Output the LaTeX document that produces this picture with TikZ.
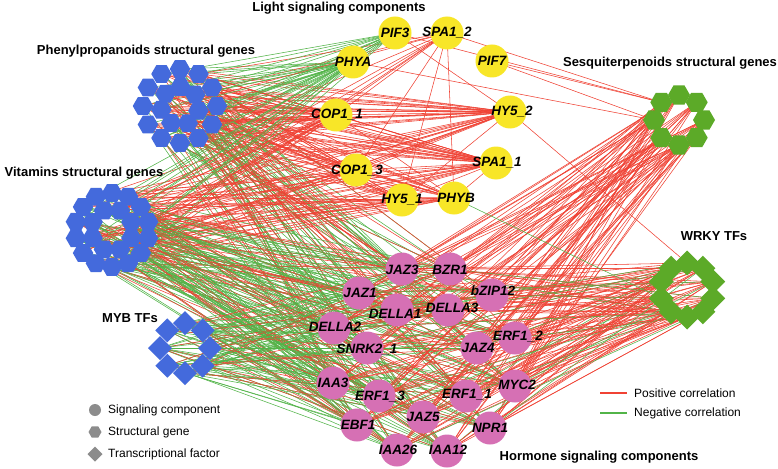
\documentclass[tikz,border=0pt]{standalone}
\usepackage{fontspec}
\setmainfont{Liberation Sans}
\usetikzlibrary{shapes.geometric}
\pgfdeclarelayer{bg}
\pgfsetlayers{bg,main}
\definecolor{posc}{RGB}{240,66,52}
\definecolor{negc}{RGB}{82,180,72}
\definecolor{yel}{RGB}{248,230,40}
\definecolor{pnk}{RGB}{214,112,180}
\definecolor{blu}{RGB}{68,106,220}
\definecolor{grn}{RGB}{92,170,40}
\definecolor{gry}{RGB}{140,140,140}
\tikzset{
 poscor/.style={draw=posc, line width=0.55pt},
 negcor/.style={draw=negc, line width=0.55pt},
 sig/.style={circle, minimum size=33pt, inner sep=0pt},
 lightnode/.style={sig, fill=yel},
 hormnode/.style={sig, fill=pnk},
 nlabel/.style={font=\fontsize{13.5}{14}\selectfont\bfseries\itshape, inner sep=0pt},
 title/.style={font=\fontsize{13}{14}\selectfont\bfseries, inner sep=0pt},
 legtext/.style={font=\fontsize{12}{13}\selectfont, inner sep=0pt, anchor=west},
 hexb/.style={regular polygon, regular polygon sides=6, minimum size=20.5pt, inner sep=0pt, fill=blu},
 hexg/.style={hexb, minimum size=22pt, fill=grn},
 diab/.style={regular polygon, regular polygon sides=4, shape border rotate=45, minimum size=24pt, inner sep=0pt, fill=blu},
 diag/.style={diab, minimum size=25pt, fill=grn},
 legline/.style={line width=1.4pt},
}
\newcommand{\lnk}[4]{\pgfmathtruncatemacro{\lnkok}{#1}\ifnum\lnkok=1 \draw[#2] (#3.center) -- (#4.center);\fi}
\begin{document}
\begin{tikzpicture}[x=1pt,y=-1pt]
\useasboundingbox (0,0) rectangle (778,468);
% ---------- light signalling components ----------
\foreach \nm/\x/\y in {l1/395/33, l2/447/33, l3/353/62, l4/492/61, l5/336/115, l6/510/112, l7/356/170, l8/496/163, l9/402/200, l10/454/198}
  \node[lightnode] (\nm) at (\x,\y) {};
% ---------- hormone signalling components ----------
\foreach \nm/\x/\y in {h1/402/269, h2/450/269, h3/359/293, h4/492/295, h5/397/310, h6/448/310, h7/334/328, h8/367/348, h9/477/348, h10/515/338, h11/333/383, h12/379/396, h13/466/396, h14/515/386, h15/357/425, h16/423/417, h17/490/428, h18/397/450, h19/447/451}
  \node[hormnode] (\nm) at (\x,\y) {};
% ---------- phenylpropanoids (blue hexagons) ----------
\foreach \k in {1,...,12}
  \node[hexb] (p\k) at ({180+37*cos(60+30*\k)},{106-37*sin(60+30*\k)}) {};
\foreach \k [evaluate=\k as \n using int(12+\k)] in {1,...,7}
  \node[hexb] (p\n) at ({180+19*cos(37+51.43*(\k-1))},{106-19*sin(37+51.43*(\k-1))}) {};
% ---------- vitamins (blue hexagons) ----------
\foreach \k in {1,...,14}
  \node[hexb] (v\k) at ({112+37*cos(90+25.71*\k)},{230-37*sin(90+25.71*\k)}) {};
\foreach \k [evaluate=\k as \n using int(14+\k)] in {1,...,8}
  \node[hexb] (v\n) at ({112+21*cos(22.5+45*\k)},{230-21*sin(22.5+45*\k)}) {};
% ---------- sesquiterpenoids (green hexagons) ----------
\foreach \k in {1,...,8}
  \node[hexg] (s\k) at ({679+25*cos(45*(\k-1))},{120-25*sin(45*(\k-1))}) {};
% ---------- WRKY (green diamonds) ----------
\foreach \k in {1,...,10}
  \node[diag] (w\k) at ({687+27*cos(90+36*(\k-1))},{290-27*sin(90+36*(\k-1))}) {};
% ---------- MYB (blue diamonds) ----------
\foreach \k in {1,...,8}
  \node[diab] (m\k) at ({185+25*cos(90+45*(\k-1))},{348-25*sin(90+45*(\k-1))}) {};
% ---------- labels ----------
\foreach \nm/\x/\y/\t in {l1/395/33/PIF3, l2/447/33/SPA1\_2, l3/353/62/PHYA, l4/492/61/PIF7, l5/337/115/COP1\_1, l6/512/112/HY5\_2, l7/357/171/COP1\_3, l8/497/163/SPA1\_1, l9/402/200/HY5\_1, l10/456/198/PHYB,
  h1/402/270/JAZ3, h2/450/270/BZR1, h3/360/293/JAZ1, h4/493/291/bZIP12, h5/395/314/DELLA1, h6/452/308/DELLA3, h7/335/327/DELLA2, h8/367/350/SNRK2\_1, h9/478/348/JAZ4, h10/518/337/ERF1\_2, h11/333/383/IAA3, h12/380/397/ERF1\_3, h13/467/395/ERF1\_1, h14/517/385/MYC2, h15/358/425/EBF1, h16/423/417/JAZ5, h17/490/428/NPR1, h18/398/450/IAA26, h19/448/450/IAA12}
  \node[nlabel] (\nm t) at (\x,\y) {\t};
% ---------- titles ----------
\node[title] (t1) at (339,8) {Light signaling components};
\node[title] (t2) at (146,51) {Phenylpropanoids structural genes};
\node[title] (t3) at (670,63) {Sesquiterpenoids structural genes};
\node[title] (t4) at (84,173) {Vitamins structural genes};
\node[title] (t5) at (714,236) {WRKY TFs};
\node[title] (t6) at (130,318) {MYB TFs};
\node[title] (t7) at (599,457) {Hormone signaling components};
% ---------- legends ----------
\node[circle, fill=gry, minimum size=12pt, inner sep=0pt] (lg1) at (95,410) {};
\node[regular polygon, regular polygon sides=6, fill=gry, minimum size=13pt, inner sep=0pt] (lg2) at (95,432) {};
\node[regular polygon, regular polygon sides=4, shape border rotate=45, fill=gry, minimum size=15pt, inner sep=0pt] (lg3) at (95,454) {};
\node[legtext] (lt1) at (108,410) {Signaling component};
\node[legtext] (lt2) at (108,432) {Structural gene};
\node[legtext] (lt3) at (108,454) {Transcriptional factor};
\coordinate (pa) at (600,393); \coordinate (pb) at (627,393);
\coordinate (na) at (600,413); \coordinate (nb) at (627,413);
\draw[legline, posc] (pa) -- (pb);
\draw[legline, negc] (na) -- (nb);
\node[legtext] (lt4) at (634,393) {Positive correlation};
\node[legtext] (lt5) at (634,413) {Negative correlation};
% ---------- edges ----------
\begin{pgfonlayer}{bg}
\fill[white] (0,0) rectangle (778,468);
% phenylpropanoids
\foreach \i in {1,...,19}{
  \lnk{1}{negcor}{p\i}{l3}
  \lnk{mod(\i,2)==0}{negcor}{p\i}{l1}
  \foreach \j in {5,6,8}{\lnk{1}{poscor}{p\i}{l\j}}
  \foreach \j in {7,9,10}{\lnk{mod(\i+\j,2)==0}{poscor}{p\i}{l\j}}
  \lnk{mod(\i,4)==0}{poscor}{p\i}{l2}
  \foreach \j in {1,...,19}{
    \lnk{mod(7*\i+3*\j,8)==0}{negcor}{p\i}{h\j}
    \lnk{mod(5*\i+11*\j,13)==0}{poscor}{p\i}{h\j}
  }
}
% vitamins
\foreach \i in {1,...,22}{
  \lnk{mod(\i,3)==0}{negcor}{v\i}{l3}
  \lnk{mod(\i,4)==1}{negcor}{v\i}{l1}
  \foreach \j in {5,6,8,10}{\lnk{mod(\i+\j,2)==0}{poscor}{v\i}{l\j}}
  \foreach \j in {7,9}{\lnk{mod(\i,3)==1}{poscor}{v\i}{l\j}}
  \lnk{mod(\i,5)==0}{poscor}{v\i}{l2}
  \foreach \j in {1,...,19}{
    \lnk{mod(3*\i+7*\j,4)==0}{negcor}{v\i}{h\j}
    \lnk{mod(5*\i+3*\j,9)==0}{poscor}{v\i}{h\j}
  }
}
% MYB
\foreach \i in {1,...,8}{
  \foreach \j in {1,...,19}{
    \lnk{mod(\i+\j,2)==0}{negcor}{m\i}{h\j}
    \lnk{mod(3*\i+\j,7)==0}{poscor}{m\i}{h\j}
  }
}
% sesquiterpenoids
\foreach \i in {1,...,8}{
  \foreach \j in {1,...,19}{
    \lnk{mod(\i+\j,2)==0}{poscor}{s\i}{h\j}
  }
}
% WRKY
\foreach \i in {1,...,10}{
  \foreach \j in {1,...,19}{
    \lnk{mod(\i+\j,2)==0}{poscor}{w\i}{h\j}
    \lnk{mod(\i*\j,11)==5}{negcor}{w\i}{h\j}
  }
}
% light to structural / TF
\foreach \a/\b in {l1/s4, l2/s4, l4/s4, l3/s5, l4/s5, l6/w1}
  \draw[poscor] (\a.center) -- (\b.center);
\draw[negcor] (l10.center) -- (w4.center);
% among light components
\foreach \a/\b in {l1/l6, l2/l5, l2/l7, l2/l10, l2/l9, l5/l6, l7/l6, l5/l8, l7/l8, l9/l8, l10/l8, l5/l10, l7/l10, l9/l6}
  \draw[poscor] (\a.center) -- (\b.center);
% among hormone components
\foreach \a/\b in {h1/h4, h2/h10, h3/h13, h5/h14, h7/h9, h12/h17}
  \draw[poscor] (\a.center) -- (\b.center);
\end{pgfonlayer}
\end{tikzpicture}
\end{document}
